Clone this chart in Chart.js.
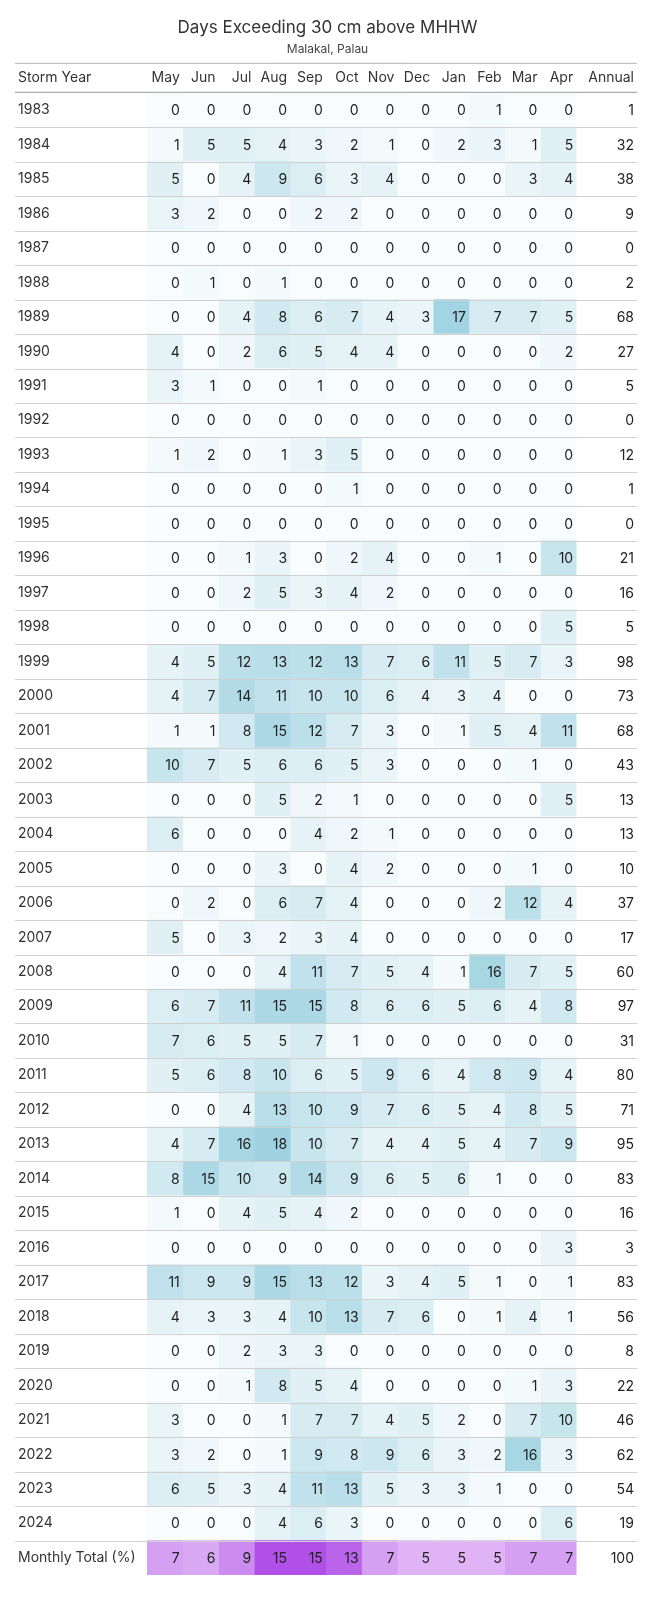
<!DOCTYPE html>
<html>
<head>
<meta charset="utf-8">
<script src="https://cdn.jsdelivr.net/npm/chart.js@4"></script>
<style>
  html, body { margin: 0; padding: 0; background: #fff; overflow: hidden; }
  #wrap { width: 669px; height: 1617px; }
</style>
</head>
<body>
<div id="wrap"><canvas id="heat"></canvas></div>
<script>
// Data
const months = ['May', 'Jun', 'Jul', 'Aug', 'Sep', 'Oct', 'Nov', 'Dec', 'Jan', 'Feb', 'Mar', 'Apr'];
const years = [];
for (let y = 1983; y <= 2024; y++) years.push(String(y));
const daysByYear = [
  [0,0,0,0,0,0,0,0,0,1,0,0],
  [1,5,5,4,3,2,1,0,2,3,1,5],
  [5,0,4,9,6,3,4,0,0,0,3,4],
  [3,2,0,0,2,2,0,0,0,0,0,0],
  [0,0,0,0,0,0,0,0,0,0,0,0],
  [0,1,0,1,0,0,0,0,0,0,0,0],
  [0,0,4,8,6,7,4,3,17,7,7,5],
  [4,0,2,6,5,4,4,0,0,0,0,2],
  [3,1,0,0,1,0,0,0,0,0,0,0],
  [0,0,0,0,0,0,0,0,0,0,0,0],
  [1,2,0,1,3,5,0,0,0,0,0,0],
  [0,0,0,0,0,1,0,0,0,0,0,0],
  [0,0,0,0,0,0,0,0,0,0,0,0],
  [0,0,1,3,0,2,4,0,0,1,0,10],
  [0,0,2,5,3,4,2,0,0,0,0,0],
  [0,0,0,0,0,0,0,0,0,0,0,5],
  [4,5,12,13,12,13,7,6,11,5,7,3],
  [4,7,14,11,10,10,6,4,3,4,0,0],
  [1,1,8,15,12,7,3,0,1,5,4,11],
  [10,7,5,6,6,5,3,0,0,0,1,0],
  [0,0,0,5,2,1,0,0,0,0,0,5],
  [6,0,0,0,4,2,1,0,0,0,0,0],
  [0,0,0,3,0,4,2,0,0,0,1,0],
  [0,2,0,6,7,4,0,0,0,2,12,4],
  [5,0,3,2,3,4,0,0,0,0,0,0],
  [0,0,0,4,11,7,5,4,1,16,7,5],
  [6,7,11,15,15,8,6,6,5,6,4,8],
  [7,6,5,5,7,1,0,0,0,0,0,0],
  [5,6,8,10,6,5,9,6,4,8,9,4],
  [0,0,4,13,10,9,7,6,5,4,8,5],
  [4,7,16,18,10,7,4,4,5,4,7,9],
  [8,15,10,9,14,9,6,5,6,1,0,0],
  [1,0,4,5,4,2,0,0,0,0,0,0],
  [0,0,0,0,0,0,0,0,0,0,0,3],
  [11,9,9,15,13,12,3,4,5,1,0,1],
  [4,3,3,4,10,13,7,6,0,1,4,1],
  [0,0,2,3,3,0,0,0,0,0,0,0],
  [0,0,1,8,5,4,0,0,0,0,1,3],
  [3,0,0,1,7,7,4,5,2,0,7,10],
  [3,2,0,1,9,8,9,6,3,2,16,3],
  [6,5,3,4,11,13,5,3,3,1,0,0],
  [0,0,0,4,6,3,0,0,0,0,0,6]
];
const annual = [1,32,38,9,0,2,68,27,5,0,12,1,0,21,16,5,98,73,68,43,13,13,10,37,17,60,97,31,80,71,95,83,16,3,83,56,8,22,46,62,54,19];
const monthlyTotal = [7,6,9,15,15,13,7,5,5,5,7,7];
const totalAnnual = 100;
const totalLabel = 'Monthly Total (%)';

const rowLabels = years.concat([totalLabel]);
const allRows = daysByYear.concat([monthlyTotal]);
const annualAll = annual.concat([totalAnnual]);
const annualWidth = 1.7;
const blueMax = 18, purpleMax = 15;

function lerp(a, b, t) {
  return 'rgb(' + a.map((v, i) => Math.round(v + (b[i] - v) * t)).join(',') + ')';
}
function cellColor(v, isTotal) {
  if (isTotal) return lerp([246, 228, 252], [176, 80, 230], Math.min(v / purpleMax, 1));
  return lerp([249, 252, 253], [158, 210, 225], Math.min(v / blueMax, 1));
}

const datasets = months.map((m, c) => ({
  label: m,
  data: rowLabels.map(() => [c, c + 1]),
  values: allRows.map(r => r[c]),
  backgroundColor: ctx => cellColor(allRows[ctx.dataIndex][c], ctx.dataIndex === years.length),
  grouped: false,
  barPercentage: 1,
  categoryPercentage: 1,
  borderWidth: 0
}));
datasets.push({
  label: 'Annual',
  data: rowLabels.map(() => [12, 12 + annualWidth]),
  values: annualAll,
  backgroundColor: 'rgba(0,0,0,0)',
  grouped: false,
  barPercentage: 1,
  categoryPercentage: 1
});

const tablePlugin = {
  id: 'tableText',
  afterDatasetsDraw(chart) {
    const { ctx, chartArea, scales } = chart;
    const x = scales.x, y = scales.y;
    const rowH = y.getPixelForValue(1) - y.getPixelForValue(0);
    ctx.save();
    // row separators
    ctx.strokeStyle = '#d0d0d0';
    ctx.lineWidth = 1;
    for (let i = 1; i < rowLabels.length; i++) {
      const py = Math.round(y.getPixelForValue(i) - rowH / 2) + 0.5;
      ctx.beginPath(); ctx.moveTo(15, py); ctx.lineTo(chartArea.right, py); ctx.stroke();
    }
    // header
    const top = chartArea.top;
    ctx.strokeStyle = '#b0b0b0';
    ctx.beginPath(); ctx.moveTo(15, top - 29.5); ctx.lineTo(chartArea.right, top - 29.5); ctx.stroke();
    ctx.strokeStyle = '#999';
    ctx.beginPath(); ctx.moveTo(15, top - 0.5); ctx.lineTo(chartArea.right, top - 0.5); ctx.stroke();
    ctx.font = '14px Inter, Roboto, sans-serif';
    ctx.fillStyle = '#333';
    ctx.textBaseline = 'middle';
    ctx.textAlign = 'left';
    ctx.fillText('Storm Year', 18, top - 15);
    ctx.textAlign = 'right';
    months.forEach((m, c) => ctx.fillText(m, x.getPixelForValue(c + 1) - 3, top - 15));
    ctx.fillText('Annual', x.getPixelForValue(12 + annualWidth) - 3, top - 15);
    // cell values
    ctx.fillStyle = '#222';
    chart.data.datasets.forEach(ds => {
      ds.data.forEach((d, r) => {
        ctx.fillText(String(ds.values[r]), x.getPixelForValue(d[1]) - 3, y.getPixelForValue(r) + 1);
      });
    });
    ctx.restore();
  }
};

new Chart(document.getElementById('heat'), {
  type: 'bar',
  data: { labels: rowLabels, datasets: datasets },
  plugins: [tablePlugin],
  options: {
    indexAxis: 'y',
    responsive: true,
    maintainAspectRatio: false,
    animation: false,
    layout: { padding: { left: 18, right: 32, bottom: 42 } },
    plugins: {
      legend: { display: false },
      tooltip: { enabled: false },
      title: {
        display: true,
        text: 'Days Exceeding 30 cm above MHHW',
        color: '#333',
        font: { size: 17, family: 'Inter, Roboto, sans-serif', weight: 'normal' },
        padding: { top: 18, bottom: 4 }
      },
      subtitle: {
        display: true,
        text: 'Malakal, Palau',
        color: '#444',
        font: { size: 12, family: 'Inter, Roboto, sans-serif' },
        padding: { bottom: 36 }
      }
    },
    scales: {
      x: {
        type: 'linear',
        min: 0,
        max: 12 + annualWidth,
        display: false
      },
      y: {
        type: 'category',
        grid: { display: false },
        border: { display: false },
        afterFit(scale) { scale.width = 129; },
        ticks: {
          crossAlign: 'far',
          padding: 0,
          color: '#333',
          font: { size: 14, family: 'Inter, Roboto, sans-serif' }
        }
      }
    }
  }
});
</script>
</body>
</html>
